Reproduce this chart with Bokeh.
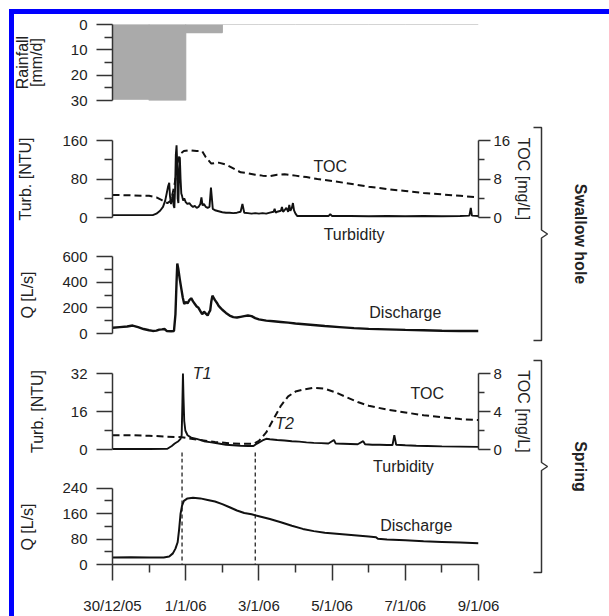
import math
from bokeh.plotting import figure
from bokeh.layouts import row, column
from bokeh.models import Range1d, LinearAxis, FixedTicker, Label, Span, Div, Spacer
from bokeh.embed import file_html
from bokeh.resources import INLINE
from bokeh.core.properties import value

# ---------------- data (x = days since 30/12/2005 00:00) ----------------
x_tick_days = [0, 2, 4, 6, 8, 10]
x_tick_labels = ["30/12/05", "1/1/06", "3/1/06", "5/1/06", "7/1/06", "9/1/06"]
x_minor_days = [1, 3, 5, 7, 9]

rain_day = [0, 1, 2, 3, 4, 5, 6, 7, 8, 9]
rain_mm = [29.5, 30.0, 3.2, 0, 0, 0, 0, 0, 0, 0]

sh_turb_t = [0.0, 0.3, 0.6, 0.9, 1.1, 1.2, 1.3, 1.38, 1.44, 1.48, 1.52, 1.55, 1.57, 1.6,
             1.63, 1.65, 1.67, 1.69, 1.71, 1.73, 1.75, 1.765, 1.78, 1.8, 1.82, 1.84, 1.86,
             1.88, 1.9, 1.93, 1.96, 2.0, 2.05, 2.1, 2.15, 2.2, 2.25, 2.3, 2.35, 2.4, 2.43,
             2.46, 2.5, 2.55, 2.6, 2.65, 2.69, 2.71, 2.74, 2.8, 2.9, 3.0, 3.1, 3.2, 3.3,
             3.4, 3.5, 3.55, 3.6, 3.7, 3.8, 3.9, 4.0, 4.1, 4.2, 4.3, 4.4, 4.43, 4.46, 4.5,
             4.6, 4.63, 4.66, 4.7, 4.75, 4.8, 4.83, 4.86, 4.9, 4.93, 4.96, 5.0, 5.05, 5.5,
             5.9, 5.95, 6.0, 6.5, 7.0, 7.5, 8.0, 8.5, 9.0, 9.5, 9.75, 9.79, 9.82, 10.0]
sh_turb = [5, 5, 5, 5, 5, 8, 14, 22, 35, 50, 65, 72, 45, 28,
           40, 50, 25, 20, 60, 130, 150, 120, 40, 30, 100, 125, 80,
           50, 45, 35, 40, 32, 28, 30, 25, 22, 24, 20, 22, 28, 42,
           25, 28, 22, 20, 22, 62, 45, 18, 15, 13, 11, 10, 10, 9,
           10, 12, 28, 10, 9, 8, 9, 8, 9, 8, 10, 12, 18, 10, 12,
           14, 22, 12, 15, 20, 12, 26, 14, 20, 30, 15, 8, 3, 3,
           3, 7, 3, 3, 2.5, 3, 2.5, 3, 2.5, 3, 4, 20, 4, 3]

sh_toc_t = [0, 0.5, 1.0, 1.2, 1.35, 1.5, 1.6, 1.7, 1.78, 1.85, 1.95, 2.1, 2.3, 2.45, 2.55,
            2.7, 2.9, 3.1, 3.3, 3.5, 3.7, 3.9, 4.1, 4.3, 4.5, 4.7, 5.0, 5.3, 5.6, 6.0, 6.5,
            7.0, 7.5, 8.0, 8.5, 9.0, 9.5, 10.0]
sh_toc = [4.7, 4.6, 4.5, 4.2, 3.6, 3.0, 3.5, 7.0, 11.5, 13.2, 13.8, 14.0, 13.8, 13.8, 12.5,
          11.2, 11.4, 11.0, 10.2, 9.4, 9.2, 8.9, 8.7, 8.6, 8.9, 9.0, 8.7, 8.4, 8.0, 7.6, 7.0,
          6.4, 5.9, 5.5, 5.1, 4.8, 4.5, 4.2]

sh_q_t = [0, 0.2, 0.4, 0.55, 0.7, 0.85, 1.0, 1.1, 1.2, 1.28, 1.35, 1.42, 1.48, 1.6, 1.68,
          1.72, 1.75, 1.77, 1.8, 1.84, 1.88, 1.92, 1.96, 2.0, 2.05, 2.1, 2.15, 2.2, 2.25,
          2.3, 2.35, 2.4, 2.45, 2.5, 2.55, 2.6, 2.63, 2.67, 2.7, 2.73, 2.76, 2.8, 2.85, 2.9,
          2.95, 3.0, 3.1, 3.2, 3.3, 3.4, 3.5, 3.6, 3.7, 3.8, 3.9, 4.0, 4.2, 4.4, 4.6, 4.8,
          5.0, 5.4, 5.8, 6.2, 6.6, 7.0, 7.5, 8.0, 8.5, 9.0, 9.5, 10.0]
sh_q = [45, 50, 55, 62, 50, 35, 25, 20, 22, 30, 32, 35, 20, 18, 20,
        150, 400, 545, 500, 420, 350, 280, 230, 245, 235, 260, 275, 250, 230,
        210, 200, 175, 150, 170, 155, 140, 160, 180, 250, 295, 280, 260, 240, 215,
        200, 185, 160, 140, 128, 125, 130, 135, 140, 135, 120, 110, 100, 95, 90, 85,
        78, 68, 58, 50, 42, 36, 32, 28, 25, 22, 20, 20]

sp_turb_t = [0, 1.0, 1.5, 1.62, 1.7, 1.8, 1.86, 1.89, 1.91, 1.925, 1.94, 1.96, 1.99, 2.05,
             2.15, 2.3, 2.5, 2.7, 2.9, 3.1, 3.3, 3.5, 3.7, 3.85, 3.95, 4.1, 4.2, 4.3, 4.5,
             4.7, 4.9, 5.1, 5.3, 5.5, 5.7, 5.9, 6.05, 6.1, 6.3, 6.5, 6.7, 6.85, 6.9, 7.1,
             7.3, 7.5, 7.65, 7.7, 7.75, 8.0, 8.3, 8.6, 9.0, 9.5, 10.0]
sp_turb = [0.2, 0.2, 0.3, 1.5, 2.5, 3.5, 4.5, 6, 20, 32, 22, 12, 8, 6,
           5, 4.5, 3.5, 3, 2.5, 2, 1.8, 1.6, 1.5, 1.5, 2.5, 3.8, 4.5, 4.3, 4,
           3.8, 3.5, 3.3, 3, 2.8, 2.7, 2.5, 4, 2.5, 2.4, 2.3, 2.2, 3.5, 2.2, 2,
           2, 1.9, 1.9, 6, 2, 1.8, 1.6, 1.5, 1.3, 1.2, 1.1]

sp_toc_t = [0, 0.5, 1.0, 1.5, 1.9, 2.1, 2.4, 2.8, 3.2, 3.6, 3.85, 4.0, 4.2, 4.4, 4.6, 4.8,
            5.0, 5.2, 5.5, 5.8, 6.1, 6.4, 6.7, 7.0, 7.5, 8.0, 8.5, 9.0, 9.5, 10.0]
sp_toc = [1.5, 1.5, 1.45, 1.35, 1.3, 1.15, 1.0, 0.8, 0.65, 0.6, 0.6, 0.9, 1.8, 3.2, 4.6, 5.6,
          6.1, 6.3, 6.5, 6.4, 6.0, 5.5, 5.0, 4.6, 4.2, 3.9, 3.6, 3.4, 3.2, 3.1]

sp_q_t = [0, 0.5, 1.0, 1.4, 1.55, 1.65, 1.72, 1.78, 1.82, 1.86, 1.9, 1.95, 2.05, 2.2, 2.4,
          2.6, 2.8, 3.0, 3.2, 3.4, 3.6, 3.8, 4.0, 4.3, 4.6, 4.9, 5.2, 5.5, 5.8, 6.2, 6.6,
          7.0, 7.2, 7.25, 7.5, 8.0, 8.5, 9.0, 9.5, 10.0]
sp_q = [22, 23, 22, 22, 25, 35, 50, 70, 110, 160, 185, 200, 208, 210, 208,
        203, 198, 190, 180, 170, 162, 158, 152, 143, 133, 122, 112, 105, 100, 96, 92,
        88, 86, 81, 79, 76, 73, 71, 69, 67]

event_days = [1.9, 3.9]

# ---------------- style / layout constants ----------------
FONT = "Liberation Sans"
TXT = "#222222"
AX = "#333333"
LINE = "#111111"
BLUE = "#0000ff"
PANEL_W = 464          # panels occupy page x 50..514
BL, BR = 62, 36        # plot frame page x 112..478

xr = Range1d(0, 10)


def yrange(v0, px0, v1, px1, top, bottom):
    """Range so that value v0 sits at page row px0 and v1 at px1, for a frame top..bottom."""
    k = (v1 - v0) / float(px0 - px1)
    return Range1d(v0 - (bottom - px0) * k, v1 + (px1 - top) * k)


def style_axis(ax, major, minor, side="left", bounds=None):
    ax.ticker = FixedTicker(ticks=major, minor_ticks=minor)
    ax.axis_line_color = AX
    ax.axis_line_width = 1.5
    ax.major_tick_line_color = AX
    ax.major_tick_line_width = 1.5
    ax.major_tick_out = 16 if side != "right" else 12
    ax.major_tick_in = 0
    ax.minor_tick_line_color = AX
    ax.minor_tick_line_width = 1.5
    ax.minor_tick_out = 8 if side != "right" else 6
    ax.minor_tick_in = 0
    ax.major_label_text_font = FONT
    ax.major_label_text_font_size = "15px"
    ax.major_label_text_color = TXT
    ax.major_label_standoff = 9 if side != "right" else 3
    if bounds is not None:
        ax.bounds = bounds


def panel(height, top, bottom, y_range, x_axis=False):
    p = figure(width=PANEL_W, height=height, x_range=xr, y_range=y_range,
               output_backend="svg", toolbar_location=None,
               min_border_left=BL, min_border_right=BR,
               min_border_top=top, min_border_bottom=bottom,
               x_axis_location="below" if x_axis else None,
               y_axis_location="left", outline_line_color=None,
               background_fill_color="white", border_fill_color="white")
    p.grid.visible = False
    return p


def lab(p, x, y, text, italic=False):
    p.add_layout(Label(x=x, y=y, text=text, text_align="center", text_baseline="middle",
                       text_font=FONT, text_font_size="16px", text_color=TXT,
                       text_font_style="italic" if italic else "normal"))


# ---- rainfall (reversed axis), page rows 14..120, frame 24..100 ----
p_rain = panel(106, 10, 20, Range1d(30, 0))
p_rain.quad(left=rain_day, right=[d + 1 for d in rain_day], top=[0] * len(rain_day),
            bottom=rain_mm, fill_color="#aaaaaa", line_color="#aaaaaa", line_width=1.2)
style_axis(p_rain.yaxis[0], [0, 10, 20, 30], [5, 15, 25])

# ---- swallow hole turbidity + TOC, page rows 120..245 ----
p_sht = panel(125, 0, 0, yrange(0, 217, 160, 140, 120, 245))
p_sht.extra_y_ranges = {"toc": yrange(0, 217, 16, 140, 120, 245)}
p_sht.line(sh_toc_t, sh_toc, y_range_name="toc", line_color=LINE, line_width=2, line_dash="7 4")
p_sht.line(sh_turb_t, sh_turb, line_color=LINE, line_width=1.9)
style_axis(p_sht.yaxis[0], [0, 80, 160], [40, 120], bounds=(0, 160))
ax_r1 = LinearAxis(y_range_name="toc")
style_axis(ax_r1, [0, 8, 16], [4, 12], side="right", bounds=(0, 16))
p_sht.add_layout(ax_r1, "right")
lab(p_sht, 5.95, 106, "TOC")
lab(p_sht, 6.6, -35, "Turbidity")

# ---- swallow hole discharge, page rows 245..352 ----
p_shq = panel(107, 0, 0, yrange(0, 333, 600, 256, 245, 352))
p_shq.line(sh_q_t, sh_q, line_color=LINE, line_width=2.4)
style_axis(p_shq.yaxis[0], [0, 200, 400, 600], [100, 300, 500], bounds=(0, 600))
lab(p_shq, 8.0, 164, "Discharge")

# ---- spring turbidity + TOC, page rows 352..458 ----
sp_t_range = yrange(0, 449, 32, 373, 352, 458)
p_spt = panel(106, 0, 0, sp_t_range)
p_spt.extra_y_ranges = {"toc": yrange(0, 449, 8, 373, 352, 458)}
p_spt.segment(x0=event_days, x1=event_days, y0=[-1.3] * len(event_days),
              y1=[sp_t_range.start] * len(event_days), line_color=LINE, line_width=1.2,
              line_dash="4 3")
p_spt.line(sp_toc_t, sp_toc, y_range_name="toc", line_color=LINE, line_width=2, line_dash="7 4")
p_spt.line(sp_turb_t, sp_turb, line_color=LINE, line_width=1.9)
style_axis(p_spt.yaxis[0], [0, 16, 32], [8, 24], bounds=(0, 32))
ax_r2 = LinearAxis(y_range_name="toc")
style_axis(ax_r2, [0, 4, 8], [2, 6], side="right", bounds=(0, 8))
p_spt.add_layout(ax_r2, "right")
lab(p_spt, 2.45, 32, "T1", italic=True)
lab(p_spt, 4.7, 11, "T2", italic=True)
lab(p_spt, 8.6, 23.5, "TOC")

# ---- spring discharge (carries the time axis), page rows 458..616, frame 458..565 ----
p_spq = panel(158, 0, 51, yrange(0, 565, 240, 488, 458, 565), x_axis=True)
for d in event_days:
    p_spq.add_layout(Span(location=d, dimension="height", line_color=LINE,
                          line_width=1.2, line_dash="4 3"))
p_spq.line(sp_q_t, sp_q, line_color=LINE, line_width=2)
style_axis(p_spq.yaxis[0], [0, 80, 160, 240], [40, 120, 200], bounds=(0, 240))
xa = p_spq.xaxis[0]
style_axis(xa, x_tick_days, x_minor_days)
xa.major_label_standoff = 16
xa.major_label_overrides = {d: t for d, t in zip(x_tick_days, x_tick_labels)}
lab(p_spq, 7.95, 309, "Turbidity")
lab(p_spq, 8.3, 122, "Discharge")

# ---- left-hand y-axis titles (page x 14..50) ----
tf = figure(width=36, height=602, x_range=Range1d(14, 50), y_range=Range1d(616, 14),
            output_backend="svg", toolbar_location=None,
            min_border_left=0, min_border_right=0, min_border_top=0, min_border_bottom=0,
            x_axis_location=None, y_axis_location=None, outline_line_color=None)
tf.grid.visible = False
tf.text([22, 36, 25, 27, 37, 27], [62, 62, 178.5, 294.5, 411, 526.5],
        text=["Rainfall", "[mm/d]", "Turb. [NTU]", "Q [L/s]", "Turb. [NTU]", "Q [L/s]"],
        angle=math.pi / 2, text_align="center", text_baseline="middle",
        text_font=value(FONT), text_font_size=value("16px"), text_color=TXT)

# ---- right-hand side: TOC axis titles, brackets and group names (page x 514..609) ----
bf = figure(width=95, height=602, x_range=Range1d(514, 609), y_range=Range1d(616, 14),
            output_backend="svg", toolbar_location=None,
            min_border_left=0, min_border_right=0, min_border_top=0, min_border_bottom=0,
            x_axis_location=None, y_axis_location=None, outline_line_color=None)
bf.grid.visible = False
bf.text([523, 523], [178.5, 411], text=["TOC [mg/L]", "TOC [mg/L]"], angle=-math.pi / 2,
        text_align="center", text_baseline="middle", text_font=value(FONT),
        text_font_size=value("16px"), text_color=TXT)
for (y0, y1, name) in [(127, 340, "Swallow hole"), (360, 572, "Spring")]:
    ym = (y0 + y1) / 2.0
    bf.line([533, 541, 541, 547, 541, 541, 533], [y0, y0, ym - 4, ym, ym + 4, y1, y1],
            line_color=AX, line_width=1.5)
    bf.text([580], [ym], text=[name], angle=-math.pi / 2, text_align="center",
            text_baseline="middle", text_font=value(FONT), text_font_size=value("16px"),
            text_font_style="bold", text_color=TXT)

# ---- blue frame edges (top and left) ----
blue_left = Div(text="", width=5, height=607, margin=0, styles={"background-color": BLUE})
blue_top = Div(text="", width=595, height=5, margin=0, styles={"background-color": BLUE})

left_col = column(Spacer(width=14, height=9, margin=0),
                  row(Spacer(width=9, height=607, margin=0), blue_left, spacing=0),
                  spacing=0)
right_col = column(Spacer(width=595, height=9, margin=0), blue_top,
                   row(tf, column(p_rain, p_sht, p_shq, p_spt, p_spq, spacing=0), bf, spacing=0),
                   spacing=0)
layout = row(left_col, right_col, spacing=0)

open("out.html", "w").write(file_html(layout, INLINE, title="chart"))
